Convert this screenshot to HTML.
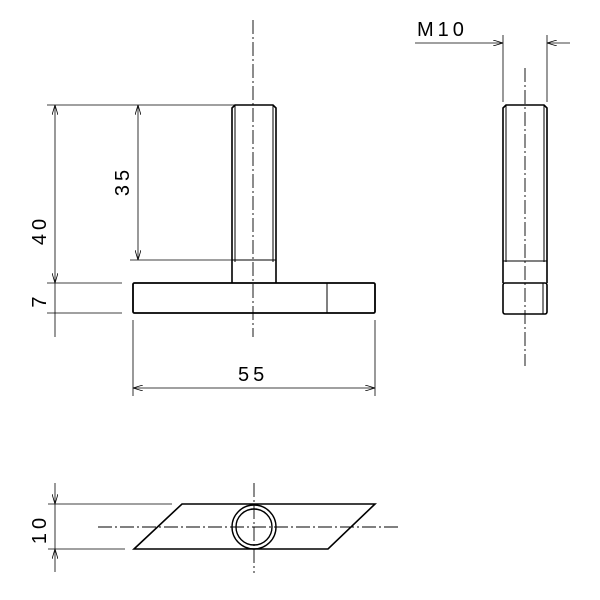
<!DOCTYPE html>
<html><head><style>body{margin:0;background:#fff}svg{display:block}text{font-family:"Liberation Sans",sans-serif;font-size:20px;fill:#000;letter-spacing:4px}</style></head><body>
<svg width="600" height="600" viewBox="0 0 600 600" xmlns="http://www.w3.org/2000/svg">
<defs><marker id="a" markerWidth="10" markerHeight="6" refX="10" refY="3" orient="auto-start-reverse" markerUnits="userSpaceOnUse"><path d="M0,0 L10,3 L0,6" fill="none" stroke="#000" stroke-width="0.8"/></marker></defs>
<g stroke="#000" fill="none" stroke-width="1">
<g stroke-dasharray="14,3,2,3" stroke-width="0.9">
<line x1="253" y1="20" x2="253" y2="337"/>
<line x1="525" y1="68" x2="525" y2="366"/>
<line x1="98" y1="527" x2="398" y2="527"/>
<line x1="254" y1="483" x2="254" y2="573"/>
</g>
<path d="M232,283 L232,108 L235,105 L273,105 L276,108 L276,283" stroke-width="1.6"/>
<line x1="235" y1="105" x2="235" y2="262"/><line x1="273" y1="105" x2="273" y2="262"/>
<line x1="232" y1="260" x2="276" y2="260"/>
<rect x="133" y="283" width="242" height="30" rx="1.5" stroke-width="1.8"/>
<line x1="327" y1="283" x2="327" y2="313"/>
<line x1="47" y1="105" x2="252" y2="105" stroke-width="0.8"/>
<line x1="130" y1="260" x2="232" y2="260" stroke-width="0.8"/>
<line x1="47" y1="283" x2="122" y2="283" stroke-width="0.8"/>
<line x1="47" y1="313" x2="122" y2="313" stroke-width="0.8"/>
<line x1="55" y1="105" x2="55" y2="283" stroke-width="0.8" marker-start="url(#a)" marker-end="url(#a)"/>
<line x1="55" y1="283" x2="55" y2="337" stroke-width="0.8"/>
<line x1="138" y1="105" x2="138" y2="260" stroke-width="0.8" marker-start="url(#a)" marker-end="url(#a)"/>
<line x1="133" y1="320" x2="133" y2="396" stroke-width="0.8"/>
<line x1="375" y1="320" x2="375" y2="396" stroke-width="0.8"/>
<line x1="133" y1="388" x2="375" y2="388" stroke-width="0.8" marker-start="url(#a)" marker-end="url(#a)"/>
<path d="M503,283 L503,108 L506,105 L544,105 L547,108 L547,283" stroke-width="1.6"/>
<line x1="506" y1="105" x2="506" y2="262"/><line x1="544" y1="105" x2="544" y2="262"/>
<line x1="503" y1="261" x2="547" y2="261"/>
<rect x="503" y="283" width="44" height="31" rx="2" stroke-width="1.6"/>
<line x1="543" y1="283" x2="543" y2="314"/>
<line x1="503" y1="35" x2="503" y2="102" stroke-width="0.8"/>
<line x1="547" y1="35" x2="547" y2="102" stroke-width="0.8"/>
<line x1="415" y1="43" x2="503" y2="43" stroke-width="0.8" marker-end="url(#a)"/>
<line x1="570" y1="43" x2="547" y2="43" stroke-width="0.8" marker-end="url(#a)"/>
<path d="M182,504 L375,504 L328,549 L134,549 Z" stroke-width="1.6"/>
<circle cx="254" cy="527" r="22" stroke-width="1.4"/>
<circle cx="254" cy="527" r="18" stroke-width="1.4"/>
<line x1="48" y1="504" x2="172" y2="504" stroke-width="0.8"/>
<line x1="48" y1="549" x2="125" y2="549" stroke-width="0.8"/>
<line x1="55" y1="483" x2="55" y2="504" stroke-width="0.8" marker-end="url(#a)"/>
<line x1="55" y1="572" x2="55" y2="549" stroke-width="0.8" marker-end="url(#a)"/>
<line x1="55" y1="504" x2="55" y2="549" stroke-width="0.8"/>
</g>
<text x="417" y="36">M10</text>
<text x="238" y="381">55</text>
<text transform="translate(46,230) rotate(-90)" text-anchor="middle">40</text>
<text transform="translate(129,181) rotate(-90)" text-anchor="middle">35</text>
<text transform="translate(46,300) rotate(-90)" text-anchor="middle">7</text>
<text transform="translate(46,529) rotate(-90)" text-anchor="middle">10</text>
</svg>
</body></html>
